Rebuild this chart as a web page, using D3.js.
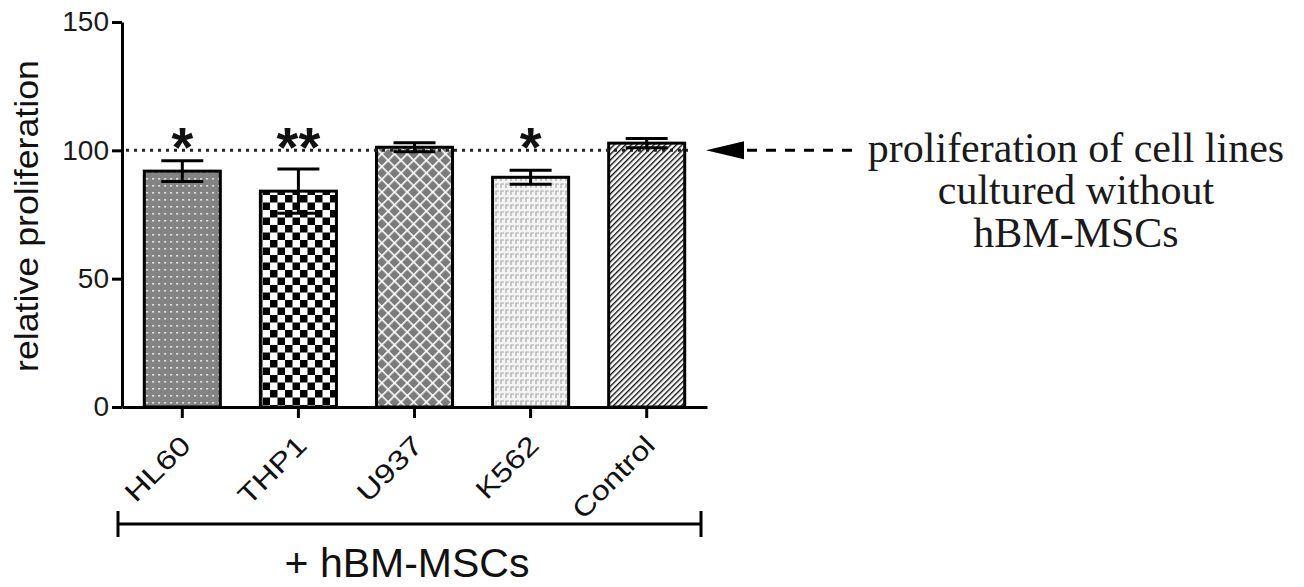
<!DOCTYPE html>
<html>
<head>
<meta charset="utf-8">
<script src="https://cdn.jsdelivr.net/npm/d3@7"></script>
<style>
  body { margin: 0; background: #fff; }
  svg { display: block; }
</style>
</head>
<body>
<script>
// data
var categories = ['HL60', 'THP1', 'U937', 'K562', 'Control'];
var values = [91.9, 84.1, 101.2, 89.5, 102.8];
var errors = [4.0, 8.6, 1.8, 2.7, 1.8];
var stars = ['*', '**', '', '*', ''];
var yTicks = [0, 50, 100, 150];
var referenceLevel = 100;
var groupLabel = '+ hBM-MSCs';
var noteLines = ['proliferation of cell lines', 'cultured without', 'hBM-MSCs'];

// styling
var patternIds = ['pDots', 'pChecker', 'pCross', 'pSpeck', 'pHatch'];
var labelLengths = [80, 84, 80, 76, 104];
var sans = "Arial, 'Liberation Sans', sans-serif";
var serif = "'Times New Roman', 'Liberation Serif', serif";

var width = 1304, height = 587;

var svg = d3.select('body').append('svg')
  .attr('width', width)
  .attr('height', height);

var x = d3.scaleBand().domain(categories).range([122, 707])
  .paddingInner(0.345).paddingOuter(0.192);
var y = d3.scaleLinear().domain([0, 150]).range([407, 22]);

// fill patterns
var defs = svg.append('defs');

var p = defs.append('pattern').attr('id', 'pDots')
  .attr('patternUnits', 'userSpaceOnUse').attr('width', 6).attr('height', 7);
p.append('rect').attr('width', 6).attr('height', 7).attr('fill', '#838383');
p.append('rect').attr('x', 2).attr('y', 3).attr('width', 2.2).attr('height', 1.6).attr('fill', '#dedede');

p = defs.append('pattern').attr('id', 'pChecker')
  .attr('patternUnits', 'userSpaceOnUse').attr('width', 15).attr('height', 15);
p.append('rect').attr('width', 15).attr('height', 15).attr('fill', '#fff');
p.append('rect').attr('width', 7.5).attr('height', 7.5).attr('fill', '#000');
p.append('rect').attr('x', 7.5).attr('y', 7.5).attr('width', 7.5).attr('height', 7.5).attr('fill', '#000');

p = defs.append('pattern').attr('id', 'pCross')
  .attr('patternUnits', 'userSpaceOnUse').attr('width', 9).attr('height', 9)
  .attr('patternTransform', 'rotate(45)');
p.append('rect').attr('width', 9).attr('height', 9).attr('fill', '#7b7b7b');
p.append('rect').attr('width', 1.6).attr('height', 9).attr('fill', '#fff');
p.append('rect').attr('width', 9).attr('height', 1.6).attr('fill', '#fff');

p = defs.append('pattern').attr('id', 'pSpeck')
  .attr('patternUnits', 'userSpaceOnUse').attr('width', 5).attr('height', 7);
p.append('rect').attr('width', 5).attr('height', 7).attr('fill', '#f4f4f4');
p.append('path').attr('d', 'M1,6V2H4').attr('fill', 'none')
  .attr('stroke', '#a8a8a8').attr('stroke-width', 1.2);

p = defs.append('pattern').attr('id', 'pHatch')
  .attr('patternUnits', 'userSpaceOnUse').attr('width', 4).attr('height', 8)
  .attr('patternTransform', 'rotate(45)');
p.append('rect').attr('width', 4).attr('height', 8).attr('fill', '#fff');
p.append('rect').attr('width', 1.4).attr('height', 8).attr('fill', '#111');

var rows = categories.map(function (c, i) {
  return { name: c, value: values[i], err: errors[i], star: stars[i], fill: patternIds[i], len: labelLengths[i] };
});

// bars
svg.append('g').selectAll('rect').data(rows).enter().append('rect')
  .attr('x', function (d) { return x(d.name); })
  .attr('y', function (d) { return y(d.value); })
  .attr('width', x.bandwidth())
  .attr('height', function (d) { return y(0) - y(d.value); })
  .attr('fill', function (d) { return 'url(#' + d.fill + ')'; })
  .attr('stroke', '#000')
  .attr('stroke-width', 3);

// reference line at 100
svg.append('line')
  .attr('x1', 126).attr('x2', 688)
  .attr('y1', y(referenceLevel)).attr('y2', y(referenceLevel))
  .attr('stroke', '#222').attr('stroke-width', 3)
  .attr('stroke-dasharray', '3,5');

// error bars
var eb = svg.append('g').selectAll('g').data(rows).enter().append('g')
  .attr('transform', function (d) { return 'translate(' + (x(d.name) + x.bandwidth() / 2) + ',0)'; })
  .attr('stroke', '#000').attr('stroke-width', 3);
eb.append('line')
  .attr('y1', function (d) { return y(d.value - d.err); })
  .attr('y2', function (d) { return y(d.value + d.err); });
eb.append('line').attr('x1', -21).attr('x2', 21)
  .attr('y1', function (d) { return y(d.value + d.err); })
  .attr('y2', function (d) { return y(d.value + d.err); });
eb.append('line').attr('x1', -21).attr('x2', 21)
  .attr('y1', function (d) { return y(d.value - d.err); })
  .attr('y2', function (d) { return y(d.value - d.err); });

// significance stars
svg.append('g').selectAll('text').data(rows.filter(function (d) { return d.star; })).enter().append('text')
  .attr('x', function (d) { return x(d.name) + x.bandwidth() / 2; })
  .attr('y', 166)
  .attr('text-anchor', 'middle')
  .style('font-family', sans).style('font-size', '56px').style('font-weight', 'bold')
  .attr('fill', '#111')
  .text(function (d) { return d.star; });

// y axis
var yAxis = svg.append('g')
  .attr('transform', 'translate(122,0)')
  .call(d3.axisLeft(y).tickValues(yTicks).tickSize(10).tickSizeOuter(0).tickPadding(3));
yAxis.select('.domain').attr('stroke-width', 3);
yAxis.selectAll('.tick line').attr('stroke-width', 3);
yAxis.selectAll('.tick text')
  .style('font-family', sans).style('font-size', '28px').attr('fill', '#1a1a1a');

// x axis
var xAxis = svg.append('g')
  .attr('transform', 'translate(0,407)')
  .call(d3.axisBottom(x).tickSize(11).tickSizeOuter(0));
xAxis.select('.domain').attr('stroke-width', 3);
xAxis.selectAll('.tick line').attr('stroke-width', 3);
xAxis.selectAll('.tick text')
  .data(rows)
  .attr('x', 10).attr('y', 40).attr('dy', 0)
  .attr('text-anchor', 'end')
  .attr('transform', 'rotate(-45,10,40)')
  .attr('textLength', function (d) { return d.len; })
  .attr('lengthAdjust', 'spacingAndGlyphs')
  .style('font-family', sans).style('font-size', '27px').attr('fill', '#111');

// y axis title
svg.append('text')
  .attr('transform', 'translate(38,216) rotate(-90)')
  .attr('text-anchor', 'middle')
  .attr('textLength', 312).attr('lengthAdjust', 'spacingAndGlyphs')
  .style('font-family', sans).style('font-size', '33px').attr('fill', '#111')
  .text('relative proliferation');

// group bracket under the labels
var bracket = svg.append('g').attr('stroke', '#000').attr('stroke-width', 3);
bracket.append('line').attr('x1', 118).attr('x2', 701).attr('y1', 524).attr('y2', 524);
bracket.append('line').attr('x1', 118).attr('x2', 118).attr('y1', 511).attr('y2', 537);
bracket.append('line').attr('x1', 701).attr('x2', 701).attr('y1', 511).attr('y2', 537);

svg.append('text')
  .attr('x', 407).attr('y', 577)
  .attr('text-anchor', 'middle')
  .style('font-family', sans).style('font-size', '41px').attr('fill', '#111')
  .text(groupLabel);

// annotation arrow pointing to the 100 line
var ay = y(referenceLevel);
svg.append('path')
  .attr('d', 'M706,' + ay + 'L744,' + (ay - 9) + 'L744,' + (ay + 9) + 'Z')
  .attr('fill', '#000');
svg.append('line')
  .attr('x1', 747).attr('x2', 852).attr('y1', ay).attr('y2', ay)
  .attr('stroke', '#000').attr('stroke-width', 3)
  .attr('stroke-dasharray', '10,9');

svg.append('g').selectAll('text').data(noteLines).enter().append('text')
  .attr('x', 1076)
  .attr('y', function (d, i) { return [162, 204, 247][i]; })
  .attr('text-anchor', 'middle')
  .style('font-family', serif).style('font-size', '42px').attr('fill', '#1a1a1a')
  .text(function (d) { return d; });
</script>
</body>
</html>
